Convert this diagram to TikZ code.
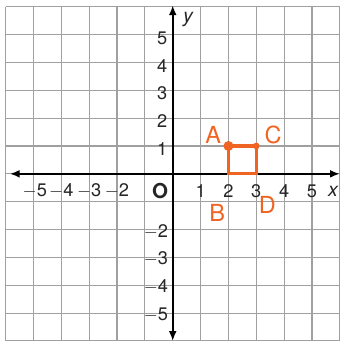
\documentclass[tikz,border=0pt]{standalone}
\usepackage{fontspec}
\setmainfont{TeX Gyre Heros}
\usetikzlibrary{arrows.meta}
\definecolor{gridgray}{RGB}{160,160,160}
\definecolor{ink}{RGB}{240,100,35}
\tikzset{
  gridline/.style={draw=gridgray,line width=0.6pt},
  axis/.style={draw=black,line width=1.1pt,{Latex[length=5pt,width=4pt]}-{Latex[length=5pt,width=4pt]}},
  lab/.style={font=\fontsize{9.3}{11}\selectfont,inner sep=0.5pt,text=black!85},
  hand/.style={font=\fontsize{12}{14}\selectfont,text=ink,inner sep=0pt},
  sq/.style={draw=ink,line width=1.6pt}
}
\begin{document}
\begin{tikzpicture}[x=0.5cm,y=0.5cm]
\useasboundingbox (-6.2,-6.0) rectangle (6.02,6.24);
\fill[white] (-6.2,-6.0) rectangle (6.02,6.24);
\foreach \i in {-6,...,6} {
  \draw[gridline] (\i,-6) -- (\i,6);
  \draw[gridline] (-6,\i) -- (6,\i);
}
\coordinate (xl) at (-5.85,0);
\coordinate (xr) at (6.0,0);
\coordinate (yb) at (0,-6.0);
\coordinate (yt) at (0,6.05);
\draw[axis] (xl) -- (xr);
\draw[axis] (yb) -- (yt);
% x labels
\node[lab] (xm5) at (-4.95,-0.62) {$-$5};
\node[lab] (xm4) at (-4.0,-0.62) {$-$4};
\node[lab] (xm3) at (-3.0,-0.62) {$-$3};
\node[lab] (xm2) at (-2.0,-0.62) {$-$2};
\node[lab,font=\fontsize{10.5}{12}\selectfont\bfseries] (o) at (-0.45,-0.62) {O};
\node[lab] (x1) at (1,-0.62) {1};
\node[lab] (x2) at (2,-0.62) {2};
\node[lab] (x3) at (3,-0.62) {3};
\node[lab] (x4) at (4,-0.62) {4};
\node[lab] (x5) at (5,-0.62) {5};
\node[lab,font=\fontsize{10}{12}\selectfont\itshape] (xlab) at (5.75,-0.62) {x};
% y labels
\node[lab] (y5) at (-0.38,4.87) {5};
\node[lab] (y4) at (-0.38,3.87) {4};
\node[lab] (y3) at (-0.38,2.9) {3};
\node[lab] (y2) at (-0.38,1.88) {2};
\node[lab] (y1) at (-0.38,0.9) {1};
\node[lab,anchor=east] (ym2) at (-0.12,-2.08) {$-$2};
\node[lab,anchor=east] (ym3) at (-0.12,-3.05) {$-$3};
\node[lab,anchor=east] (ym4) at (-0.12,-4.05) {$-$4};
\node[lab,anchor=east] (ym5) at (-0.12,-5.05) {$-$5};
\node[lab,font=\fontsize{10}{12}\selectfont\itshape] (ylab) at (0.55,5.55) {y};
% orange square
\coordinate (A) at (2,1);
\coordinate (B) at (2,0);
\coordinate (C) at (3,1);
\coordinate (D) at (3,0);
\draw[sq] (A) -- (C) -- (D) -- (B) -- cycle;
\fill[ink] (A) circle (0.18);
\fill[ink] (C) circle (0.12);
\node[hand] (la) at (1.45,1.4) {A};
\node[hand] (lc) at (3.6,1.4) {C};
\node[hand] (lb) at (1.6,-1.4) {B};
\node[hand] (ld) at (3.4,-1.1) {D};
\end{tikzpicture}
\end{document}
